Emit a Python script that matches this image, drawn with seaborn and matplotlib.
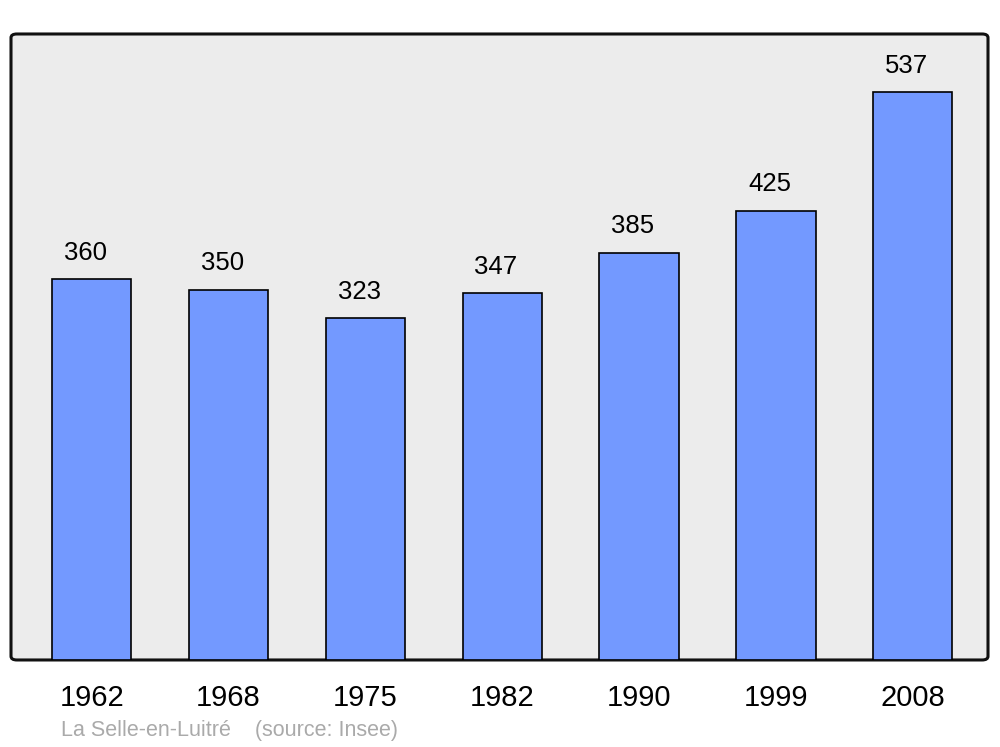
import matplotlib
matplotlib.use("Agg")
import matplotlib.pyplot as plt
import seaborn as sns
import pandas as pd
from matplotlib.patches import FancyBboxPatch

years = ["1962", "1968", "1975", "1982", "1990", "1999", "2008"]
population = [360, 350, 323, 347, 385, 425, 537]
footer = "La Selle-en-Luitré    (source: Insee)"

sns.set_style("white")
plt.rcParams["font.family"] = ["Liberation Sans", "DejaVu Sans"]

df = pd.DataFrame({"year": years, "pop": population})

fig = plt.figure(figsize=(10, 7.47), dpi=100)
ax = fig.add_axes([0.011, 0.1165, 0.977, 0.838])
ax.set_facecolor("none")

# rounded frame as background
frame = FancyBboxPatch((0, 0), 1, 1,
                       boxstyle="round,pad=0,rounding_size=0.006",
                       transform=ax.transAxes, facecolor="#ECECEC",
                       edgecolor="#111111", linewidth=2.2, zorder=0,
                       clip_on=False)
ax.add_patch(frame)

sns.barplot(data=df, x="year", y="pop", ax=ax, color="#7399FF", saturation=1,
            width=0.58, edgecolor="black", linewidth=1.2, zorder=2)

for i, v in enumerate(population):
    ax.annotate(str(v), (i, v), xytext=(-4.6, 19), textcoords="offset points",
                ha="center", va="center", fontsize=18.5, color="black")

ax.set_xlim(-0.59, 6.55)
ax.set_ylim(0, 592)
ax.set_yticks([])
ax.set_xlabel("")
ax.set_ylabel("")
ax.tick_params(axis="x", length=0, labelsize=21, pad=17, labelcolor="black")
for lbl in ax.get_xticklabels():
    lbl.set_x(lbl.get_position()[0])
for s in ax.spines.values():
    s.set_visible(False)

fig.text(0.061, 0.008, footer, fontsize=15.5, color="#AAAAAA", ha="left", va="bottom")

fig.savefig("out.png", dpi=100)
